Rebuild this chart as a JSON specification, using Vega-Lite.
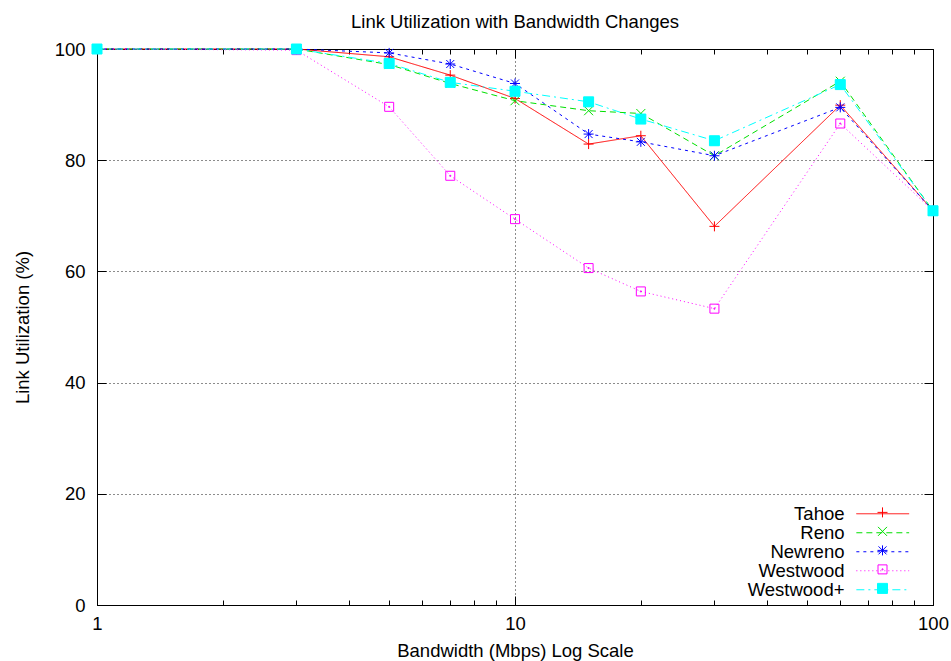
{
  "$schema": "https://vega.github.io/schema/vega-lite/v6.json",
  "autosize": "none",
  "width": 836,
  "height": 556,
  "padding": {"left": 97, "top": 49, "right": 18, "bottom": 56},
  "background": "#ffffff",
  "title": {
    "text": "Link Utilization with Bandwidth Changes",
    "fontSize": 18.5,
    "fontWeight": "normal",
    "color": "#000000",
    "anchor": "middle",
    "frame": "group",
    "baseline": "alphabetic",
    "offset": -6.5
  },
  "data": {
    "values": [
      {"bw": 1, "series": "Tahoe", "util": 100},
      {"bw": 3, "series": "Tahoe", "util": 100},
      {"bw": 5, "series": "Tahoe", "util": 98.6},
      {"bw": 7, "series": "Tahoe", "util": 95.3},
      {"bw": 10, "series": "Tahoe", "util": 91.1},
      {"bw": 15, "series": "Tahoe", "util": 82.9},
      {"bw": 20, "series": "Tahoe", "util": 84.4},
      {"bw": 30, "series": "Tahoe", "util": 68.1},
      {"bw": 60, "series": "Tahoe", "util": 89.9},
      {"bw": 100, "series": "Tahoe", "util": 70.9},
      {"bw": 1, "series": "Reno", "util": 100},
      {"bw": 3, "series": "Reno", "util": 100},
      {"bw": 5, "series": "Reno", "util": 97.2},
      {"bw": 7, "series": "Reno", "util": 93.8},
      {"bw": 10, "series": "Reno", "util": 90.7},
      {"bw": 15, "series": "Reno", "util": 88.9},
      {"bw": 20, "series": "Reno", "util": 88.4},
      {"bw": 30, "series": "Reno", "util": 80.8},
      {"bw": 60, "series": "Reno", "util": 94.2},
      {"bw": 100, "series": "Reno", "util": 70.9},
      {"bw": 1, "series": "Newreno", "util": 100},
      {"bw": 3, "series": "Newreno", "util": 100},
      {"bw": 5, "series": "Newreno", "util": 99.3},
      {"bw": 7, "series": "Newreno", "util": 97.3},
      {"bw": 10, "series": "Newreno", "util": 93.8},
      {"bw": 15, "series": "Newreno", "util": 84.7},
      {"bw": 20, "series": "Newreno", "util": 83.3},
      {"bw": 30, "series": "Newreno", "util": 80.8},
      {"bw": 60, "series": "Newreno", "util": 89.5},
      {"bw": 100, "series": "Newreno", "util": 70.9},
      {"bw": 1, "series": "Westwood", "util": 100},
      {"bw": 3, "series": "Westwood", "util": 99.8},
      {"bw": 5, "series": "Westwood", "util": 89.6},
      {"bw": 7, "series": "Westwood", "util": 77.2},
      {"bw": 10, "series": "Westwood", "util": 69.4},
      {"bw": 15, "series": "Westwood", "util": 60.6},
      {"bw": 20, "series": "Westwood", "util": 56.4},
      {"bw": 30, "series": "Westwood", "util": 53.3},
      {"bw": 60, "series": "Westwood", "util": 86.6},
      {"bw": 100, "series": "Westwood", "util": 70.9},
      {"bw": 1, "series": "Westwood+", "util": 100},
      {"bw": 3, "series": "Westwood+", "util": 100},
      {"bw": 5, "series": "Westwood+", "util": 97.4},
      {"bw": 7, "series": "Westwood+", "util": 94.0},
      {"bw": 10, "series": "Westwood+", "util": 92.4},
      {"bw": 15, "series": "Westwood+", "util": 90.5},
      {"bw": 20, "series": "Westwood+", "util": 87.4},
      {"bw": 30, "series": "Westwood+", "util": 83.5},
      {"bw": 60, "series": "Westwood+", "util": 93.6},
      {"bw": 100, "series": "Westwood+", "util": 70.9}
    ]
  },
  "resolve": {
    "axis": {"x": "independent", "y": "independent"},
    "scale": {"color": "independent", "shape": "independent", "fill": "independent", "strokeDash": "independent"}
  },
  "layer": [
    {
      "mark": {"type": "line", "strokeWidth": 1, "opacity": 1},
      "encoding": {
        "x": {
          "field": "bw", "type": "quantitative",
          "scale": {"type": "log", "domain": [1, 100], "nice": false},
          "axis": {
            "orient": "bottom", "values": [1, 10, 100], "format": "d",
            "tickSize": -9, "labelPadding": 18, "labelBaseline": "top",
            "grid": true, "title": "Bandwidth (Mbps) Log Scale", "titlePadding": 9
          }
        },
        "y": {
          "field": "util", "type": "quantitative",
          "scale": {"domain": [0, 100], "nice": false},
          "axis": {
            "orient": "left", "values": [0, 20, 40, 60, 80, 100],
            "tickSize": -9, "labelPadding": 21,
            "grid": true, "title": "Link Utilization (%)", "titlePadding": 22
          }
        },
        "color": {
          "field": "series", "type": "nominal",
          "scale": {
            "domain": ["Tahoe", "Reno", "Newreno", "Westwood", "Westwood+"],
            "range": ["#ff0000", "#00e000", "#0000ff", "#ff00ff", "#00ffff"]
          },
          "legend": {
            "orient": "none", "legendX": 776.5, "legendY": 455.5,
            "title": null, "symbolType": "M-3.2,0L3.2,0", "symbolSize": 272.25,
            "symbolStrokeWidth": 1, "labelAlign": "right", "labelOffset": -47.5,
            "labelFontSize": 18.5, "labelColor": "#000000", "labelLimit": 300,
            "rowPadding": 0, "padding": 0
          }
        },
        "strokeDash": {
          "field": "series", "type": "nominal",
          "scale": {
            "domain": ["Tahoe", "Reno", "Newreno", "Westwood", "Westwood+"],
            "range": [[1, 0], [6, 4], [3, 4], [1, 3], [8, 4, 2, 4]]
          }
        }
      }
    },
    {
      "mark": {"type": "point", "filled": false, "strokeWidth": 1, "size": 100, "opacity": 1},
      "encoding": {
        "x": {
          "field": "bw", "type": "quantitative",
          "axis": {
            "orient": "bottom", "values": [2, 3, 4, 5, 6, 7, 8, 9, 20, 30, 40, 50, 60, 70, 80, 90],
            "tickSize": -5, "labels": false, "domain": false, "grid": false, "title": null
          }
        },
        "y": {
          "field": "util", "type": "quantitative",
          "axis": {
            "orient": "right", "values": [0, 20, 40, 60, 80, 100],
            "tickSize": -9, "labels": false, "domain": false, "grid": false, "title": null
          }
        },
        "color": {
          "field": "series", "type": "nominal", "sort": null,
          "scale": {"range": ["#ff0000", "#00e000", "#0000ff", "#ff00ff", "#00ffff"]},
          "legend": {
            "orient": "none", "legendX": 780, "legendY": 454,
            "title": null, "symbolSize": 100, "symbolStrokeWidth": 1,
            "symbolOpacity": 1,
            "labelExpr": "''", "labelOffset": 0,
            "clipHeight": 18.75, "rowPadding": 0, "padding": 0
          }
        },
        "fill": {
          "field": "series", "type": "nominal", "sort": null,
          "scale": {"range": ["transparent", "transparent", "transparent", "transparent", "#00ffff"]}
        },
        "shape": {
          "field": "series", "type": "nominal", "sort": null,
          "scale": {
            "range": [
              "M-1,0L1,0M0,-1L0,1",
              "M-0.9,-0.9L0.9,0.9M-0.9,0.9L0.9,-0.9",
              "M-1,0L1,0M0,-1L0,1M-0.8,-0.8L0.8,0.8M-0.8,0.8L0.8,-0.8",
              "M-0.9,-0.9L0.9,-0.9L0.9,0.9L-0.9,0.9Z M-0.1,-0.1L0.1,-0.1L0.1,0.1L-0.1,0.1Z",
              "square"
            ]
          }
        }
      }
    },
    {
      "transform": [{"filter": "datum.series === 'Westwood+'"}],
      "mark": {"type": "square", "filled": true, "size": 90, "color": "#00ffff", "opacity": 1},
      "encoding": {
        "x": {
          "field": "bw", "type": "quantitative",
          "axis": {
            "orient": "top", "values": [1, 10, 100],
            "tickSize": -9, "labels": false, "domain": false, "grid": false, "title": null
          }
        },
        "y": {"field": "util", "type": "quantitative", "axis": null}
      }
    },
    {
      "mark": {"type": "point", "opacity": 0},
      "encoding": {
        "x": {
          "field": "bw", "type": "quantitative",
          "axis": {
            "orient": "top", "values": [2, 3, 4, 5, 6, 7, 8, 9, 20, 30, 40, 50, 60, 70, 80, 90],
            "tickSize": -5, "labels": false, "domain": false, "grid": false, "title": null
          }
        },
        "y": {"field": "util", "type": "quantitative", "axis": null}
      }
    }
  ],
  "config": {
    "font": "Liberation Sans",
    "view": {"stroke": "#000000", "strokeWidth": 1},
    "axis": {
      "labelFontSize": 18.5,
      "labelColor": "#000000",
      "labelFlush": false,
      "titleFontSize": 18.5,
      "titleFontWeight": "normal",
      "titleColor": "#000000",
      "tickColor": "#000000",
      "tickWidth": 1,
      "domainColor": "#000000",
      "domainWidth": 1,
      "gridColor": "#000000",
      "gridDash": [1, 3],
      "gridOpacity": 0.9
    }
  }
}
